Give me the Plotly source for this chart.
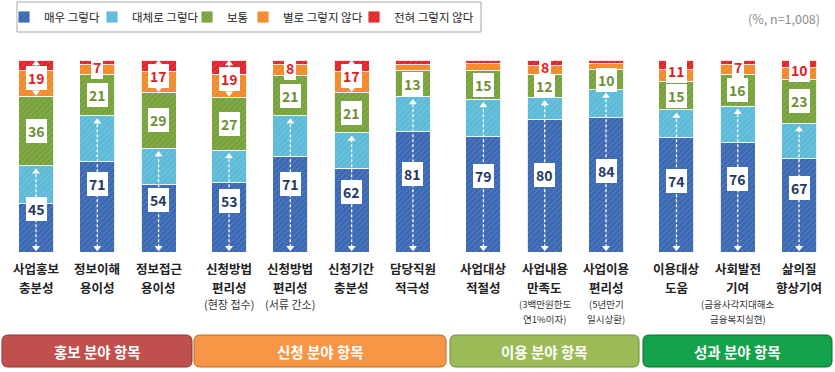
import plotly.graph_objects as go

# ---------------- data ----------------
cat_main = ["사업홍보<br>충분성", "정보이해<br>용이성", "정보접근<br>용이성",
            "신청방법<br>편리성", "신청방법<br>편리성", "신청기간<br>충분성", "담당직원<br>적극성",
            "사업대상<br>적절성", "사업내용<br>만족도", "사업이용<br>편리성",
            "이용대상<br>도움", "사회발전<br>기여", "삶의질<br>향상기여"]
cat_sub = ["", "", "",
           "(현장 접수)", "(서류 간소)", "", "",
           "", "(3백만원한도<br>연1%이자)", "(5년만기<br>일시상환)",
           "", "(금융사각지대해소<br>금융복지실현)", ""]
group_names = ["홍보 분야 항목", "신청 분야 항목", "이용 분야 항목", "성과 분야 항목"]
group_sizes = [3, 4, 3, 3]

series_names = ["매우 그렇다", "대체로 그렇다", "보통", "별로 그렇지 않다", "전혀 그렇지 않다"]
very = [25.5, 47, 35, 36, 50, 43.5, 63, 60, 69, 70, 59.5, 57, 48.5]
mostly = [19.5, 24, 19, 17, 21, 18.5, 18, 19.5, 11.5, 14.5, 14.5, 19, 18.5]
neutral = [36, 21.2, 29, 27.5, 21, 21, 13.3, 15, 12, 10.5, 15, 16.5, 23]
notmuch = [13.5, 5.3, 11, 12, 5.5, 11, 3.2, 3.5, 4.5, 3, 6, 5, 6]
notatall = [5.5, 2.5, 6, 7.5, 2.5, 6, 2.5, 2, 3, 2, 5, 2.5, 4]

pos_label = [45, 71, 54, 53, 71, 62, 81, 79, 80, 84, 74, 76, 67]
neu_label = [36, 21, 29, 27, 21, 21, 13, 15, 12, 10, 15, 16, 23]
neg_label = [19, 7, 17, 19, 8, 17, None, None, 8, None, 11, 7, 10]

# ---------------- styles ----------------
colors = ["#3b69b3", "#5dbbd8", "#78a23b", "#f28a2b", "#e0262c"]
label_colors = {"pos": "#1f3864", "neu": "#6e8f35", "neg": "#e0201b"}
group_fill = ["#c0504d", "#f79646", "#9bbb59", "#13a14a"]
group_line = ["#8c3836", "#b46a2c", "#6f8a3c", "#0c6e33"]
FONT = "Noto Sans CJK KR"

W, H = 835, 372
T, B = 60, 120
PLOT_H = H - T - B
GAP = 0.15
BAR_W = 0.571

# x positions of bars (groups separated by an extra gap)
xpos = []
i = 0
for g, n in enumerate(group_sizes):
    for _ in range(n):
        xpos.append(i + GAP * g)
        i += 1

PX_PER_UNIT = 61.29
x_lo = -36 / PX_PER_UNIT
x_hi = x_lo + W / PX_PER_UNIT


def px2py(p):
    return (H - B - p) / PLOT_H


legend_sq_left = [30, 118, 213, 269, 380]  # pixel position of each legend key
legend_ids = ["legend", "legend2", "legend3", "legend4", "legend5"]

fig = go.Figure()
for k, (name, vals, col) in enumerate(zip(series_names,
                                          [very, mostly, neutral, notmuch, notatall], colors)):
    fig.add_trace(go.Bar(
        x=xpos, y=vals, name=name, width=BAR_W, legend=legend_ids[k],
        marker=dict(color=col,
                    line=dict(color="rgba(255,255,255,0.85)", width=1),
                    pattern=dict(shape="/", fgcolor="rgba(255,255,255,0.4)",
                                 size=4, solidity=0.22, fillmode="overlay")),
        hoverinfo="skip",
    ))

# dashed double arrows
lx, ly, mx, my, ms = [], [], [], [], []
for k, x in enumerate(xpos):
    top = very[k] + mostly[k]
    lx += [x, x, None]
    ly += [2.5, top - 3.0, None]
    mx += [x, x]
    my += [top - 3.2, 2.2]
    ms += ["triangle-up", "triangle-down"]
    neg = notmuch[k] + notatall[k]
    if neg_label[k] is not None and neg_label[k] >= 15:
        lo = 100 - neg
        lx += [x, x, None]
        ly += [lo + 2.5, 98, None]
        mx += [x, x]
        my += [98.2, lo + 2.2]
        ms += ["triangle-up", "triangle-down"]

fig.add_trace(go.Scatter(x=lx, y=ly, mode="lines", showlegend=False, hoverinfo="skip",
                         line=dict(color="white", width=1.3, dash="3px,2px")))
fig.add_trace(go.Scatter(x=mx, y=my, mode="markers", showlegend=False, hoverinfo="skip",
                         marker=dict(symbol=ms, color="white", size=7,
                                     line=dict(width=0))))


# value labels
def lab(x, y, txt, col):
    fig.add_annotation(x=x, y=y, xref="x", yref="y", text=f"<b>{txt}</b>",
                       showarrow=False, bgcolor="white", bordercolor="white",
                       borderpad=1, borderwidth=1, xanchor="center", yanchor="middle",
                       font=dict(family=FONT, size=14, color=col))


for k, x in enumerate(xpos):
    pos = very[k] + mostly[k]
    lab(x, pos / 2, pos_label[k], label_colors["pos"])
    lab(x, pos + neutral[k] / 2, neu_label[k], label_colors["neu"])
    if neg_label[k] is not None:
        neg = notmuch[k] + notatall[k]
        lab(x, 100 - neg / 2, neg_label[k], label_colors["neg"])

# category labels (one text per line, placed under each bar)
main_line_px = [268.5, 287]
sub_line_px = [304, 318.5]
for k, x in enumerate(xpos):
    for ln, py in zip(cat_main[k].split("<br>"), main_line_px):
        fig.add_annotation(x=x, y=px2py(py), xref="x", yref="paper", text=f"<b>{ln}</b>",
                           showarrow=False, xanchor="center", yanchor="middle",
                           font=dict(family=FONT, size=12.5, color="#222"))
    if cat_sub[k]:
        sub_lines = cat_sub[k].split("<br>")
        sub_size = 11 if len(sub_lines) == 1 else 9.5
        for ln, py in zip(sub_lines, sub_line_px):
            fig.add_annotation(x=x, y=px2py(py), xref="x", yref="paper", text=ln,
                               showarrow=False, xanchor="center", yanchor="middle",
                               font=dict(family=FONT, size=sub_size, color="#333"))

# group banners (rounded rectangles)
banner_px = [(2, 192), (194, 446), (450, 639), (643, 832)]
y0p, y1p = 335, 367
r = 6
for g, (a, b) in enumerate(banner_px):
    rx, ry = r / W, r / PLOT_H
    xa, xb = a / W, b / W
    yt, yb = px2py(y0p), px2py(y1p)
    path = (f"M{xa+rx},{yt} L{xb-rx},{yt} Q{xb},{yt} {xb},{yt-ry} "
            f"L{xb},{yb+ry} Q{xb},{yb} {xb-rx},{yb} L{xa+rx},{yb} "
            f"Q{xa},{yb} {xa},{yb+ry} L{xa},{yt-ry} Q{xa},{yt} {xa+rx},{yt} Z")
    fig.add_shape(type="path", path=path, xref="paper", yref="paper",
                  fillcolor=group_fill[g], line=dict(color=group_line[g], width=1))
    fig.add_annotation(x=(a + b) / 2 / W, y=px2py((y0p + y1p) / 2), xref="paper", yref="paper",
                       text=f"<b>{group_names[g]}</b>", showarrow=False,
                       xanchor="center", yanchor="middle",
                       font=dict(family=FONT, size=14.5, color="white"))

# legend frame
fig.add_shape(type="rect", xref="paper", yref="paper",
              x0=17 / W, x1=481 / W, y0=px2py(32), y1=px2py(2),
              line=dict(color="#a6a6a6", width=1), fillcolor="white", layer="below")

fig.add_annotation(x=822 / W, y=px2py(19), xref="paper", yref="paper", xanchor="right",
                   yanchor="middle", text="(%, n=1,008)", showarrow=False,
                   font=dict(family=FONT, size=12.5, color="#8c8c8c"))

legend_common = dict(orientation="h", xanchor="left", yanchor="middle", y=px2py(17),
                     borderwidth=0, bgcolor="rgba(0,0,0,0)",
                     font=dict(family=FONT, size=11.5, color="#222"), itemwidth=30)
layout_legends = {}
for k, lid in enumerate(legend_ids):
    layout_legends[lid] = dict(legend_common, x=(legend_sq_left[k] - 26) / W)

fig.update_layout(
    width=W, height=H,
    margin=dict(l=0, r=0, t=T, b=B, pad=0, autoexpand=False),
    barmode="stack",
    paper_bgcolor="white", plot_bgcolor="white",
    showlegend=True,
    xaxis=dict(range=[x_lo, x_hi], tickvals=xpos, showticklabels=False,
               automargin=False,
               showgrid=False, zeroline=False, showline=False, ticks="",
               fixedrange=True),
    yaxis=dict(range=[0, 100], visible=False, showgrid=False, fixedrange=True,
               automargin=False),
    font=dict(family=FONT),
    **layout_legends,
)

fig.write_html("out.html", config={"displayModeBar": False},
               post_script="document.body.style.margin='0';")
